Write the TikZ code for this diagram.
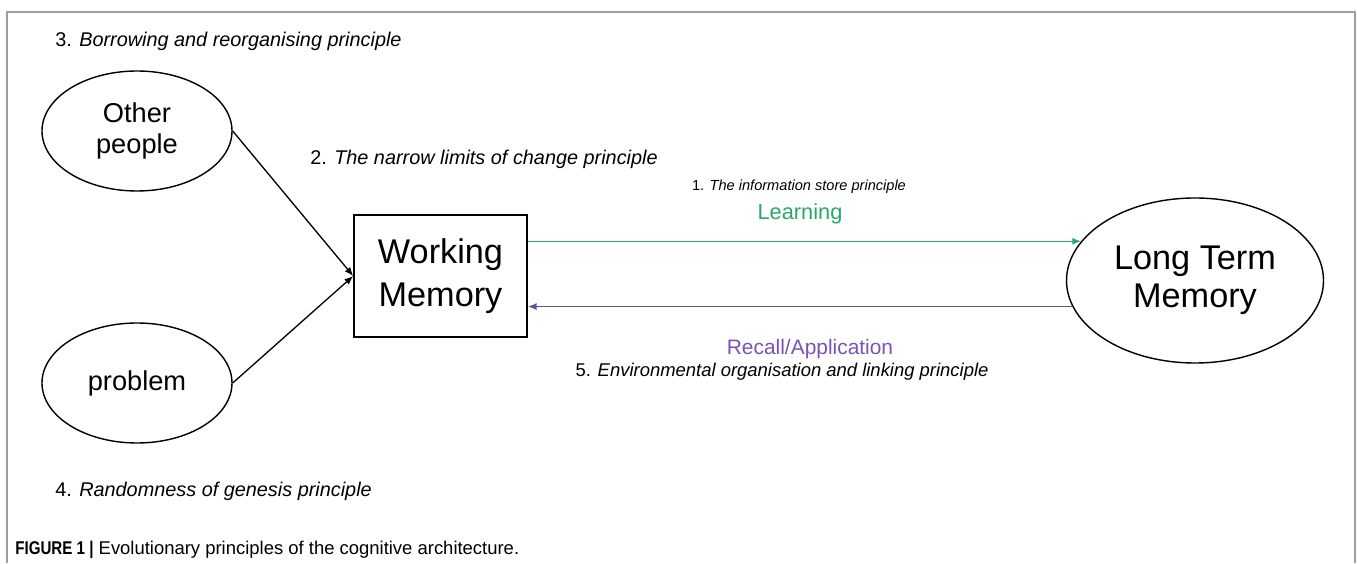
\documentclass[tikz,border=0pt]{standalone}
\usepackage{fontspec}
\setmainfont{Liberation Sans}
\newfontfamily\narrowfont[FakeStretch=0.82]{Liberation Sans}
\usetikzlibrary{shapes.geometric,arrows.meta}
\definecolor{learngreen}{RGB}{40,168,108}
\definecolor{recallviolet}{RGB}{122,82,180}
\definecolor{recallline}{RGB}{92,86,140}

\begin{document}
\begin{tikzpicture}[x=2cm,y=2cm,
  blob/.style={draw,ellipse,line width=0.8pt,inner sep=0pt,align=center},
  principle/.style={font=\fontsize{11.3}{13}\selectfont\itshape,inner sep=0pt},
  link/.style={-{Latex[length=5pt,width=4pt]},line width=0.75pt}]
\useasboundingbox (0,0) rectangle (13.57,5.63);
\draw[gray!75,line width=1.1pt] (0.07,0) -- (0.07,5.51) -- (13.55,5.51) -- (13.55,0);
% sources on the left
\node[blob,minimum width=3.8cm,minimum height=2.4cm,font=\fontsize{15.5}{18}\selectfont] (other) at (1.37,4.32) {Other\\people};
\node[blob,minimum width=3.8cm,minimum height=2.4cm,font=\fontsize{15.5}{18}\selectfont] (problem) at (1.37,1.80) {problem};
% the two memories
\node[draw,line width=0.9pt,minimum width=3.46cm,minimum height=2.44cm,align=center,font=\fontsize{19.5}{24.5}\selectfont] (wm) at (4.405,2.87) {Working\\Memory};
\node[blob,minimum width=5.14cm,minimum height=3.3cm,font=\fontsize{19.5}{21.5}\selectfont] (ltm) at (11.95,2.825) {Long Term\\Memory};
\draw[link] (other.east) -- (wm.west);
\draw[link] (problem.east) -- (wm.west);
\draw[link,learngreen] (wm.east |- ltm.161) -- (ltm.161);
\draw[link,recallline] (ltm.192) -- (wm.east |- ltm.192);
% labels
\node[principle,anchor=base west] (p3) at (0.55,5.16) {\upshape 3. \itshape Borrowing and reorganising principle};
\node[principle,anchor=base west] (p2) at (3.10,3.98) {\upshape 2. \itshape The narrow limits of change principle};
\node[principle,anchor=base west] (p4) at (0.55,0.66) {\upshape 4. \itshape Randomness of genesis principle};
\node[principle,anchor=base,font=\fontsize{8.3}{10}\selectfont\itshape] (p1) at (7.99,3.72) {\upshape 1. \itshape The information store principle};
\node[anchor=base,inner sep=0pt,text=learngreen,font=\fontsize{12.4}{14}\selectfont] (learn) at (8.00,3.43) {Learning};
\node[anchor=base,inner sep=0pt,text=recallviolet,font=\fontsize{11.9}{14}\selectfont] (recall) at (8.10,2.08) {Recall/Application};
\node[principle,anchor=base,font=\fontsize{10.5}{12}\selectfont\itshape] (p5) at (7.82,1.86) {\upshape 5. \itshape Environmental organisation and linking principle};
\node[anchor=base west,inner sep=0pt,font=\fontsize{10.5}{12}\selectfont] (caption) at (0.15,0.08) {{\narrowfont\bfseries FIGURE 1 |} Evolutionary principles of the cognitive architecture.};
\end{tikzpicture}
\end{document}
